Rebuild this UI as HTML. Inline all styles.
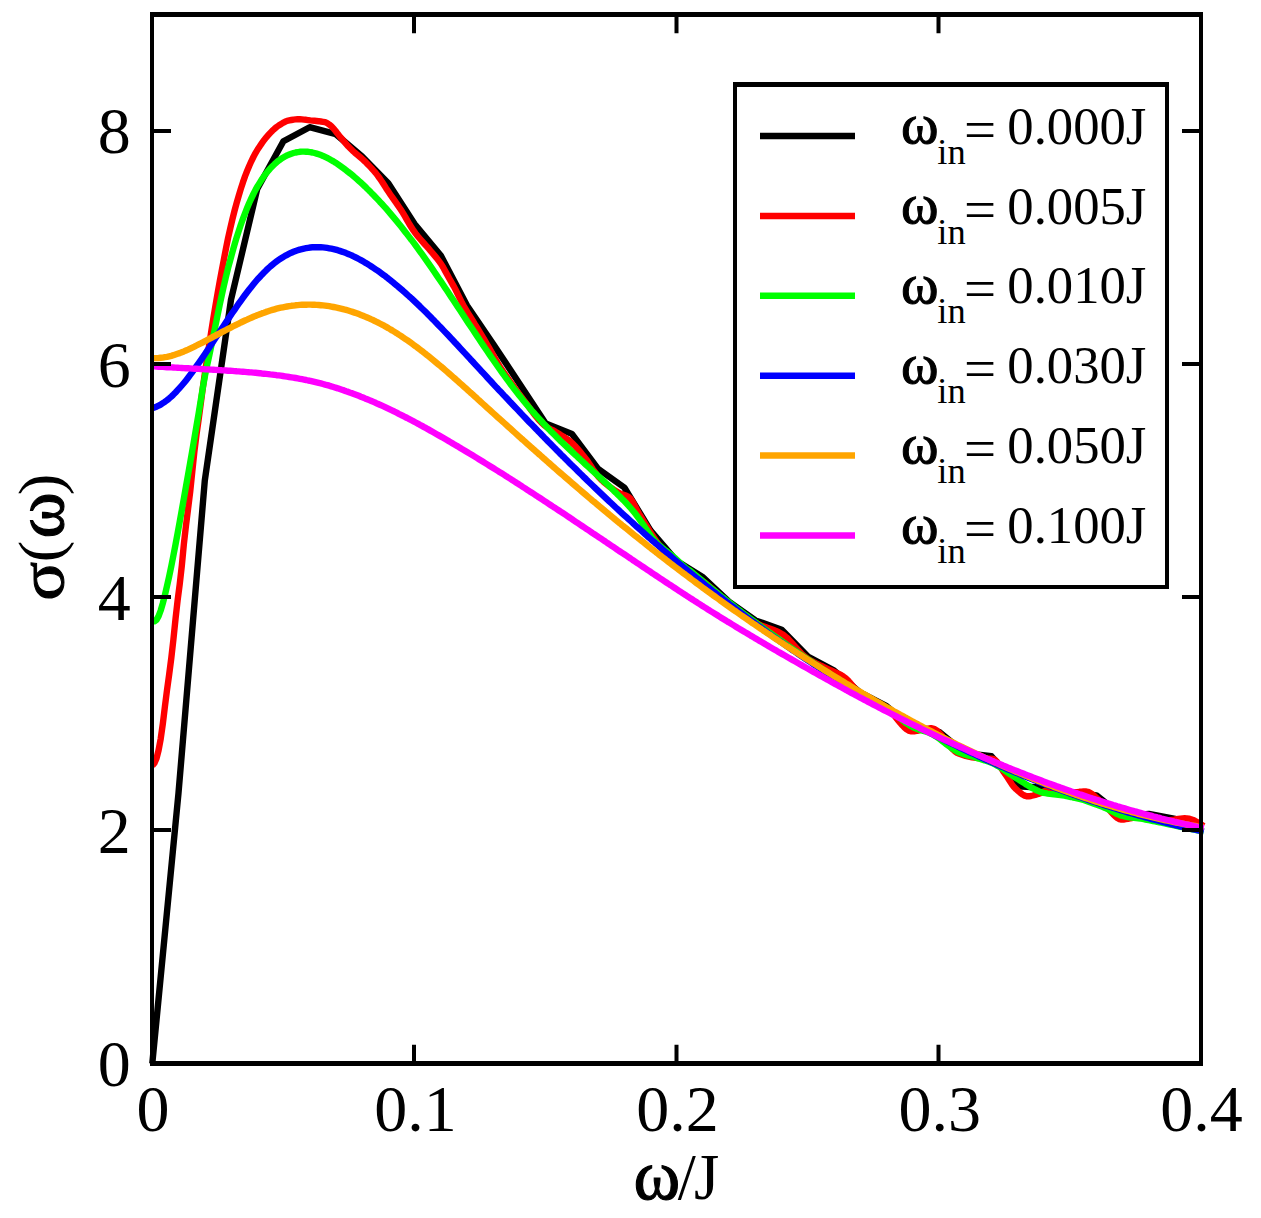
<!DOCTYPE html>
<html lang="en"><head><meta charset="utf-8"><title>σ(ω) vs ω/J</title>
<style>
html,body{margin:0;padding:0;background:#fff;}
body{width:1261px;height:1218px;overflow:hidden;}
svg text{font-kerning:none;}
</style></head><body>
<svg width="1261" height="1218" viewBox="0 0 1261 1218" style="display:block">
<rect x="0" y="0" width="1261" height="1218" fill="#ffffff"/>
<g fill="none" stroke-width="6.4" stroke-linejoin="round" stroke-linecap="butt">
<path d="M152.3 1063.5 L178.5 793.0 L204.8 480.5 L231.0 299.8 L257.2 189.0 L283.4 141.2 L309.6 127.2 L335.9 134.2 L362.1 156.4 L388.3 183.2 L414.6 224.0 L440.8 255.5 L467.0 305.6 L493.2 344.1 L519.5 383.7 L545.7 423.4 L571.9 433.9 L598.1 468.8 L624.3 487.5 L650.6 530.6 L676.8 561.0 L703.0 577.3 L729.2 601.8 L755.5 620.4 L781.7 629.7 L807.9 656.6 L834.2 670.6 L860.4 692.7 L886.6 706.1 L912.8 727.7 L939.0 731.8 L965.3 753.3 L991.5 756.3 L1017.7 786.3 L1044.0 787.7 L1070.2 791.8 L1096.4 795.3 L1122.6 816.3 L1148.9 814.0 L1175.1 819.0 L1201.3 830.3" stroke="#000000"/>
<path d="M152.3 765.6 L154.4 763.2 L156.5 758.5 L158.6 750.1 L160.7 738.8 L162.8 724.0 L164.9 706.7 L167.0 690.1 L169.2 674.3 L171.3 658.0 L173.4 639.5 L175.5 619.2 L177.6 600.5 L179.7 584.3 L181.8 565.8 L183.9 543.7 L186.0 525.3 L188.1 508.7 L190.2 491.5 L192.3 471.5 L194.4 451.4 L196.5 434.6 L198.7 419.1 L200.8 403.4 L202.9 387.4 L205.0 372.4 L207.1 358.5 L209.2 344.8 L211.3 331.3 L213.4 318.1 L215.5 305.4 L217.6 293.2 L219.7 281.5 L221.8 270.3 L223.9 259.3 L226.0 248.3 L228.1 237.9 L230.3 228.3 L232.4 219.3 L234.5 210.9 L236.6 203.1 L238.7 195.8 L240.8 188.9 L242.9 182.4 L245.0 176.4 L247.1 171.0 L249.2 166.0 L251.3 161.3 L253.4 157.0 L255.5 153.1 L257.6 149.5 L259.8 146.2 L261.9 143.1 L264.0 140.2 L266.1 137.6 L268.2 135.2 L270.3 132.9 L272.4 130.7 L274.5 128.8 L276.6 127.0 L278.7 125.5 L280.8 124.2 L282.9 122.9 L285.0 121.8 L287.1 120.9 L289.3 120.4 L291.4 120.0 L293.5 119.6 L295.6 119.4 L297.7 119.2 L299.8 119.2 L301.9 119.4 L304.0 119.6 L306.1 119.8 L308.2 120.1 L310.3 120.4 L312.4 120.6 L314.5 120.8 L316.6 121.0 L318.7 121.2 L320.9 121.5 L323.0 121.8 L325.1 122.2 L327.2 123.2 L329.3 124.6 L331.4 126.3 L333.5 128.4 L335.6 131.0 L337.7 133.8 L339.8 136.4 L341.9 138.9 L344.0 141.4 L346.1 143.9 L348.2 146.3 L350.4 148.5 L352.5 150.6 L354.6 152.5 L356.7 154.3 L358.8 156.0 L360.9 157.8 L363.0 159.6 L365.1 161.6 L367.2 163.7 L369.3 165.9 L371.4 168.1 L373.5 170.5 L375.6 172.9 L377.7 175.6 L379.8 178.5 L382.0 181.7 L384.1 185.0 L386.2 188.4 L388.3 191.6 L390.4 194.7 L392.5 197.7 L394.6 200.7 L396.7 203.6 L398.8 206.7 L400.9 209.8 L403.0 213.1 L405.1 216.6 L407.2 220.3 L409.3 224.0 L411.5 227.5 L413.6 230.7 L415.7 233.6 L417.8 236.3 L419.9 238.8 L422.0 241.2 L424.1 243.5 L426.2 245.8 L428.3 248.2 L430.4 250.7 L432.5 253.1 L434.6 255.6 L436.7 258.1 L438.8 260.9 L441.0 263.9 L443.1 267.3 L445.2 271.1 L447.3 274.9 L449.4 278.7 L451.5 282.4 L453.6 286.1 L455.7 290.0 L457.8 294.3 L459.9 298.7 L462.0 302.9 L464.1 306.7 L466.2 310.2 L468.3 313.6 L470.4 317.0 L472.6 320.4 L474.7 323.9 L476.8 327.2 L478.9 330.6 L481.0 334.1 L483.1 337.6 L485.2 341.2 L487.3 344.8 L489.4 348.4 L491.5 352.1 L493.6 355.8 L495.7 359.5 L497.8 363.2 L499.9 366.7 L502.1 370.0 L504.2 373.2 L506.3 376.2 L508.4 379.2 L510.5 382.1 L512.6 385.0 L514.7 387.9 L516.8 390.8 L518.9 393.6 L521.0 396.4 L523.1 399.2 L525.2 401.9 L527.3 404.7 L529.4 407.6 L531.5 410.6 L533.7 413.5 L535.8 416.3 L537.9 418.8 L540.0 421.1 L542.1 423.2 L544.2 425.1 L546.3 426.7 L548.4 428.0 L550.5 429.1 L552.6 430.1 L554.7 431.3 L556.8 432.6 L558.9 433.8 L561.0 435.1 L563.2 436.4 L565.3 437.8 L567.4 439.2 L569.5 440.8 L571.6 442.6 L573.7 444.6 L575.8 446.8 L577.9 449.2 L580.0 451.6 L582.1 454.2 L584.2 456.8 L586.3 459.4 L588.4 462.4 L590.5 465.6 L592.6 468.8 L594.8 471.9 L596.9 474.8 L599.0 477.4 L601.1 479.6 L603.2 481.5 L605.3 483.3 L607.4 485.0 L609.5 486.6 L611.6 488.1 L613.7 489.6 L615.8 491.0 L617.9 492.3 L620.0 493.4 L622.1 494.3 L624.3 495.0 L626.4 495.8 L628.5 496.9 L630.6 498.7 L632.7 501.8 L634.8 505.7 L636.9 509.8 L639.0 513.6 L641.1 517.0 L643.2 520.5 L645.3 523.9 L647.4 527.3 L649.5 530.6 L651.6 533.9 L653.8 537.2 L655.9 540.4 L658.0 543.5 L660.1 546.4 L662.2 549.1 L664.3 551.5 L666.4 553.9 L668.5 556.1 L670.6 558.3 L672.7 560.3 L674.8 562.2 L676.9 564.0 L679.0 565.6 L681.1 567.2 L683.2 568.6 L685.4 570.0 L687.5 571.4 L689.6 572.6 L691.7 573.9 L693.8 575.2 L695.9 576.5 L698.0 577.9 L700.1 579.3 L702.2 580.8 L704.3 582.3 L706.4 584.0 L708.5 585.7 L710.6 587.5 L712.7 589.3 L714.9 591.2 L717.0 593.0 L719.1 594.9 L721.2 596.7 L723.3 598.6 L725.4 600.4 L727.5 602.1 L729.6 603.8 L731.7 605.5 L733.8 607.2 L735.9 608.8 L738.0 610.5 L740.1 612.2 L742.2 613.9 L744.3 615.5 L746.5 617.0 L748.6 618.5 L750.7 619.9 L752.8 621.2 L754.9 622.4 L757.0 623.5 L759.1 624.5 L761.2 625.4 L763.3 626.2 L765.4 627.0 L767.5 627.8 L769.6 628.5 L771.7 629.3 L773.8 630.1 L776.0 630.9 L778.1 631.9 L780.2 633.0 L782.3 634.2 L784.4 635.7 L786.5 637.4 L788.6 639.4 L790.7 641.6 L792.8 643.9 L794.9 646.3 L797.0 648.6 L799.1 650.9 L801.2 653.2 L803.3 655.2 L805.4 657.1 L807.6 658.7 L809.7 660.0 L811.8 661.2 L813.9 662.3 L816.0 663.4 L818.1 664.4 L820.2 665.4 L822.3 666.3 L824.4 667.3 L826.5 668.3 L828.6 669.3 L830.7 670.3 L832.8 671.2 L834.9 672.1 L837.1 673.1 L839.2 674.1 L841.3 675.2 L843.4 676.5 L845.5 678.0 L847.6 680.0 L849.7 682.3 L851.8 684.8 L853.9 687.3 L856.0 689.8 L858.1 692.0 L860.2 693.8 L862.3 695.2 L864.4 696.5 L866.6 697.7 L868.7 698.8 L870.8 699.8 L872.9 700.7 L875.0 701.7 L877.1 702.7 L879.2 703.7 L881.3 704.7 L883.4 705.9 L885.5 707.2 L887.6 708.6 L889.7 710.5 L891.8 712.7 L893.9 715.1 L896.0 717.7 L898.2 720.4 L900.3 722.9 L902.4 725.3 L904.5 727.5 L906.6 729.3 L908.7 730.6 L910.8 731.3 L912.9 731.4 L915.0 731.2 L917.1 730.9 L919.2 730.4 L921.3 729.9 L923.4 729.4 L925.5 729.0 L927.7 728.6 L929.8 728.3 L931.9 728.3 L934.0 728.8 L936.1 730.0 L938.2 731.7 L940.3 733.9 L942.4 736.4 L944.5 739.1 L946.6 741.8 L948.7 744.6 L950.8 747.2 L952.9 749.5 L955.0 751.4 L957.1 752.9 L959.3 753.8 L961.4 754.5 L963.5 755.2 L965.6 755.9 L967.7 756.4 L969.8 756.9 L971.9 757.3 L974.0 757.6 L976.1 757.8 L978.2 758.0 L980.3 758.1 L982.4 758.2 L984.5 758.3 L986.6 758.4 L988.8 758.6 L990.9 758.8 L993.0 759.0 L995.1 760.0 L997.2 762.1 L999.3 765.0 L1001.4 768.3 L1003.5 771.7 L1005.6 774.7 L1007.7 777.8 L1009.8 781.1 L1011.9 784.3 L1014.0 787.1 L1016.1 789.2 L1018.3 791.1 L1020.4 792.9 L1022.5 794.5 L1024.6 795.6 L1026.7 796.3 L1028.8 796.3 L1030.9 796.0 L1033.0 795.5 L1035.1 794.9 L1037.2 794.2 L1039.3 793.6 L1041.4 792.7 L1043.5 791.7 L1045.6 790.7 L1047.7 790.1 L1049.9 789.8 L1052.0 790.0 L1054.1 790.4 L1056.2 790.9 L1058.3 791.5 L1060.4 792.1 L1062.5 792.6 L1064.6 792.9 L1066.7 793.0 L1068.8 792.9 L1070.9 792.8 L1073.0 792.6 L1075.1 792.3 L1077.2 792.1 L1079.4 791.8 L1081.5 791.7 L1083.6 791.5 L1085.7 791.5 L1087.8 791.8 L1089.9 792.7 L1092.0 794.0 L1094.1 795.6 L1096.2 797.5 L1098.3 799.4 L1100.4 801.4 L1102.5 803.1 L1104.6 804.9 L1106.7 807.1 L1108.8 809.4 L1111.0 811.8 L1113.1 814.2 L1115.2 816.3 L1117.3 818.0 L1119.4 819.1 L1121.5 819.6 L1123.6 819.5 L1125.7 819.2 L1127.8 818.9 L1129.9 818.4 L1132.0 818.0 L1134.1 817.5 L1136.2 817.2 L1138.3 816.9 L1140.5 816.9 L1142.6 817.1 L1144.7 817.5 L1146.8 818.0 L1148.9 818.5 L1151.0 818.9 L1153.1 819.3 L1155.2 819.5 L1157.3 819.8 L1159.4 820.0 L1161.5 820.2 L1163.6 820.3 L1165.7 820.4 L1167.8 820.3 L1169.9 820.2 L1172.1 819.9 L1174.2 819.6 L1176.3 819.2 L1178.4 818.9 L1180.5 818.6 L1182.6 818.4 L1184.7 818.3 L1186.8 818.4 L1188.9 818.7 L1191.0 819.3 L1193.1 820.0 L1195.2 821.0 L1197.3 822.1 L1199.4 823.4 L1201.6 824.8 L1203.7 826.2" stroke="#ff0000"/>
<path d="M152.3 620.1 L154.4 621.3 L156.5 619.8 L158.6 616.1 L160.7 610.5 L162.8 603.4 L164.9 595.1 L167.0 586.0 L169.2 576.3 L171.3 566.1 L173.4 555.5 L175.5 544.6 L177.6 533.3 L179.7 521.8 L181.8 510.1 L183.9 498.3 L186.0 486.4 L188.1 474.5 L190.2 462.6 L192.3 450.5 L194.4 438.3 L196.5 425.8 L198.7 413.0 L200.8 400.0 L202.9 387.2 L205.0 375.6 L207.1 365.4 L209.2 355.8 L211.3 345.9 L213.4 335.7 L215.5 325.4 L217.6 315.1 L219.7 304.9 L221.8 295.0 L223.9 285.6 L226.0 276.6 L228.1 268.0 L230.3 259.9 L232.4 252.1 L234.5 244.7 L236.6 237.7 L238.7 231.1 L240.8 224.8 L242.9 218.9 L245.0 213.3 L247.1 208.0 L249.2 203.0 L251.3 198.4 L253.4 194.0 L255.5 189.9 L257.6 186.1 L259.8 182.6 L261.9 179.3 L264.0 176.2 L266.1 173.4 L268.2 170.8 L270.3 168.4 L272.4 166.2 L274.5 164.2 L276.6 162.3 L278.7 160.6 L280.8 159.1 L282.9 157.7 L285.0 156.5 L287.1 155.4 L289.3 154.5 L291.4 153.7 L293.5 153.0 L295.6 152.5 L297.7 152.1 L299.8 151.8 L301.9 151.6 L304.0 151.6 L306.1 151.7 L308.2 151.8 L310.3 152.1 L312.4 152.5 L314.5 153.0 L316.6 153.6 L318.7 154.3 L320.9 155.1 L323.0 155.9 L325.1 156.9 L327.2 157.9 L329.3 159.0 L331.4 160.2 L333.5 161.4 L335.6 162.7 L337.7 164.1 L339.8 165.6 L341.9 167.1 L344.0 168.6 L346.1 170.2 L348.2 171.9 L350.4 173.6 L352.5 175.3 L354.6 177.1 L356.7 178.9 L358.8 180.8 L360.9 182.7 L363.0 184.6 L365.1 186.6 L367.2 188.7 L369.3 190.7 L371.4 192.9 L373.5 195.0 L375.6 197.2 L377.7 199.4 L379.8 201.7 L382.0 204.0 L384.1 206.3 L386.2 208.7 L388.3 211.1 L390.4 213.6 L392.5 216.1 L394.6 218.6 L396.7 221.1 L398.8 223.7 L400.9 226.3 L403.0 229.0 L405.1 231.7 L407.2 234.4 L409.3 237.1 L411.5 239.9 L413.6 242.7 L415.7 245.5 L417.8 248.4 L419.9 251.3 L422.0 254.2 L424.1 257.2 L426.2 260.2 L428.3 263.2 L430.4 266.2 L432.5 269.2 L434.6 272.3 L436.7 275.4 L438.8 278.5 L441.0 281.6 L443.1 284.7 L445.2 287.9 L447.3 291.0 L449.4 294.2 L451.5 297.4 L453.6 300.6 L455.7 303.8 L457.8 306.9 L459.9 310.1 L462.0 313.3 L464.1 316.5 L466.2 319.7 L468.3 322.9 L470.4 326.1 L472.6 329.3 L474.7 332.5 L476.8 335.6 L478.9 338.8 L481.0 342.0 L483.1 345.1 L485.2 348.2 L487.3 351.3 L489.4 354.4 L491.5 357.5 L493.6 360.5 L495.7 363.5 L497.8 366.5 L499.9 369.5 L502.1 372.5 L504.2 375.4 L506.3 378.3 L508.4 381.2 L510.5 384.0 L512.6 386.8 L514.7 389.6 L516.8 392.3 L518.9 395.0 L521.0 397.6 L523.1 400.2 L525.2 402.8 L527.3 405.3 L529.4 407.8 L531.5 410.3 L533.7 412.7 L535.8 415.1 L537.9 417.4 L540.0 419.7 L542.1 422.0 L544.2 424.3 L546.3 426.5 L548.4 428.7 L550.5 430.9 L552.6 433.0 L554.7 435.1 L556.8 437.2 L558.9 439.3 L561.0 441.4 L563.2 443.4 L565.3 445.4 L567.4 447.4 L569.5 449.4 L571.6 451.4 L573.7 453.4 L575.8 455.3 L577.9 457.3 L580.0 459.2 L582.1 461.2 L584.2 463.1 L586.3 465.1 L588.4 467.0 L590.5 468.9 L592.6 470.9 L594.8 472.8 L596.9 474.7 L599.0 476.7 L601.1 478.6 L603.2 480.6 L605.3 482.6 L607.4 484.5 L609.5 486.5 L611.6 488.5 L613.7 490.6 L615.8 492.6 L617.9 494.7 L620.0 496.7 L622.1 498.9 L624.3 501.1 L626.4 503.3 L628.5 505.6 L630.6 508.0 L632.7 510.5 L634.8 513.1 L636.9 515.8 L639.0 518.6 L641.1 521.6 L643.2 524.6 L645.3 527.8 L647.4 530.9 L649.5 534.0 L651.6 536.9 L653.8 539.6 L655.9 542.0 L658.0 544.1 L660.1 546.0 L662.2 547.8 L664.3 549.5 L666.4 551.1 L668.5 552.8 L670.6 554.4 L672.7 556.1 L674.8 557.9 L676.9 559.8 L679.0 561.8 L681.1 563.8 L683.2 565.8 L685.4 567.6 L687.5 569.2 L689.6 570.3 L691.7 572.0 L693.8 573.8 L695.9 575.5 L698.0 577.3 L700.1 579.0 L702.2 580.8 L704.3 582.5 L706.4 584.3 L708.5 586.0 L710.6 587.7 L712.7 589.4 L714.9 591.1 L717.0 592.8 L719.1 594.5 L721.2 596.2 L723.3 597.8 L725.4 599.5 L727.5 601.1 L729.6 602.8 L731.7 604.4 L733.8 606.0 L735.9 607.7 L738.0 609.3 L740.1 610.9 L742.2 612.5 L744.3 614.1 L746.5 615.7 L748.6 617.2 L750.7 618.8 L752.8 620.4 L754.9 621.9 L757.0 623.5 L759.1 625.0 L761.2 626.6 L763.3 628.1 L765.4 629.7 L767.5 631.2 L769.6 632.7 L771.7 634.2 L773.8 635.7 L776.0 637.2 L778.1 638.7 L780.2 640.2 L782.3 641.7 L784.4 643.2 L786.5 644.7 L788.6 646.1 L790.7 647.6 L792.8 649.0 L794.9 650.5 L797.0 651.9 L799.1 653.4 L801.2 654.8 L803.3 656.3 L805.4 657.7 L807.6 659.1 L809.7 660.5 L811.8 661.9 L813.9 663.3 L816.0 664.7 L818.1 666.1 L820.2 667.5 L822.3 668.9 L824.4 670.2 L826.5 671.6 L828.6 673.0 L830.7 674.3 L832.8 675.7 L834.9 677.0 L837.1 678.4 L839.2 679.7 L841.3 681.0 L843.4 682.4 L845.5 683.7 L847.6 685.0 L849.7 686.3 L851.8 687.6 L853.9 688.9 L856.0 690.2 L858.1 691.5 L860.2 692.8 L862.3 694.1 L864.4 695.4 L866.6 696.6 L868.7 697.9 L870.8 699.2 L872.9 700.4 L875.0 701.7 L877.1 702.9 L879.2 704.2 L881.3 705.4 L883.4 706.7 L885.5 707.9 L887.6 709.2 L889.7 710.5 L891.8 712.0 L893.9 713.6 L896.0 715.2 L898.2 716.9 L900.3 718.5 L902.4 720.2 L904.5 721.8 L906.6 723.3 L908.7 724.7 L910.8 726.0 L912.9 727.1 L915.0 728.1 L917.1 728.9 L919.2 729.6 L921.3 730.2 L923.4 730.8 L925.5 731.4 L927.7 732.1 L929.8 733.0 L931.9 734.0 L934.0 735.2 L936.1 736.5 L938.2 738.0 L940.3 739.5 L942.4 741.1 L944.5 742.7 L946.6 744.4 L948.7 746.0 L950.8 747.5 L952.9 748.9 L955.0 750.3 L957.1 751.5 L959.3 752.5 L961.4 753.3 L963.5 754.1 L965.6 754.8 L967.7 755.3 L969.8 755.9 L971.9 756.5 L974.0 757.0 L976.1 757.7 L978.2 758.4 L980.3 759.0 L982.4 759.7 L984.5 760.3 L986.6 761.0 L988.8 761.7 L990.9 762.5 L993.0 763.4 L995.1 764.4 L997.2 765.6 L999.3 766.8 L1001.4 768.2 L1003.5 769.6 L1005.6 771.1 L1007.7 772.6 L1009.8 774.0 L1011.9 775.4 L1014.0 776.7 L1016.1 778.0 L1018.3 779.4 L1020.4 780.7 L1022.5 782.1 L1024.6 783.4 L1026.7 784.8 L1028.8 786.0 L1030.9 787.3 L1033.0 788.4 L1035.1 789.5 L1037.2 790.5 L1039.3 791.4 L1041.4 792.2 L1043.5 792.8 L1045.6 793.2 L1047.7 793.6 L1049.9 793.9 L1052.0 794.1 L1054.1 794.4 L1056.2 794.6 L1058.3 794.8 L1060.4 795.0 L1062.5 795.3 L1064.6 795.7 L1066.7 796.2 L1068.8 796.6 L1070.9 797.0 L1073.0 797.5 L1075.1 797.9 L1077.2 798.4 L1079.4 798.9 L1081.5 799.4 L1083.6 800.0 L1085.7 800.7 L1087.8 801.4 L1089.9 802.2 L1092.0 802.9 L1094.1 803.7 L1096.2 804.5 L1098.3 805.2 L1100.4 806.0 L1102.5 806.8 L1104.6 807.7 L1106.7 808.6 L1108.8 809.7 L1111.0 810.8 L1113.1 811.9 L1115.2 813.0 L1117.3 814.0 L1119.4 814.9 L1121.5 815.6 L1123.6 816.2 L1125.7 816.7 L1127.8 817.1 L1129.9 817.4 L1132.0 817.6 L1134.1 817.8 L1136.2 818.1 L1138.3 818.3 L1140.5 818.6 L1142.6 818.9 L1144.7 819.3 L1146.8 819.8 L1148.9 820.2 L1151.0 820.6 L1153.1 821.0 L1155.2 821.4 L1157.3 821.9 L1159.4 822.3 L1161.5 822.7 L1163.6 823.2 L1165.7 823.6 L1167.8 824.1 L1169.9 824.5 L1172.1 824.9 L1174.2 825.4 L1176.3 825.9 L1178.4 826.3 L1180.5 826.8 L1182.6 827.2 L1184.7 827.6 L1186.8 828.1 L1188.9 828.5 L1191.0 829.0 L1193.1 829.4 L1195.2 829.8 L1197.3 830.3 L1199.4 830.7 L1201.6 831.2 L1203.7 831.6" stroke="#00ff00"/>
<path d="M152.3 408.2 L154.4 407.5 L156.5 406.7 L158.6 405.7 L160.7 404.6 L162.8 403.2 L164.9 401.8 L167.0 400.2 L169.2 398.4 L171.3 396.6 L173.4 394.6 L175.5 392.5 L177.6 390.2 L179.7 387.9 L181.8 385.5 L183.9 383.0 L186.0 380.4 L188.1 377.7 L190.2 374.9 L192.3 372.1 L194.4 369.2 L196.5 366.2 L198.7 363.2 L200.8 360.2 L202.9 357.1 L205.0 354.0 L207.1 350.8 L209.2 347.7 L211.3 344.5 L213.4 341.3 L215.5 338.1 L217.6 334.9 L219.7 331.7 L221.8 328.6 L223.9 325.4 L226.0 322.2 L228.1 319.1 L230.3 315.9 L232.4 312.8 L234.5 309.8 L236.6 306.7 L238.7 303.7 L240.8 300.8 L242.9 297.9 L245.0 295.0 L247.1 292.3 L249.2 289.5 L251.3 286.9 L253.4 284.3 L255.5 281.8 L257.6 279.3 L259.8 277.0 L261.9 274.7 L264.0 272.5 L266.1 270.4 L268.2 268.4 L270.3 266.5 L272.4 264.7 L274.5 263.0 L276.6 261.4 L278.7 259.9 L280.8 258.5 L282.9 257.2 L285.0 255.9 L287.1 254.8 L289.3 253.7 L291.4 252.7 L293.5 251.8 L295.6 251.0 L297.7 250.3 L299.8 249.6 L301.9 249.1 L304.0 248.6 L306.1 248.2 L308.2 247.8 L310.3 247.5 L312.4 247.3 L314.5 247.2 L316.6 247.2 L318.7 247.2 L320.9 247.3 L323.0 247.4 L325.1 247.6 L327.2 247.9 L329.3 248.3 L331.4 248.7 L333.5 249.1 L335.6 249.6 L337.7 250.2 L339.8 250.9 L341.9 251.6 L344.0 252.3 L346.1 253.1 L348.2 254.0 L350.4 254.9 L352.5 255.8 L354.6 256.8 L356.7 257.9 L358.8 259.0 L360.9 260.1 L363.0 261.3 L365.1 262.6 L367.2 263.8 L369.3 265.1 L371.4 266.5 L373.5 267.9 L375.6 269.3 L377.7 270.7 L379.8 272.2 L382.0 273.8 L384.1 275.3 L386.2 276.9 L388.3 278.6 L390.4 280.2 L392.5 281.9 L394.6 283.7 L396.7 285.4 L398.8 287.2 L400.9 289.0 L403.0 290.8 L405.1 292.7 L407.2 294.6 L409.3 296.5 L411.5 298.4 L413.6 300.4 L415.7 302.4 L417.8 304.4 L419.9 306.4 L422.0 308.5 L424.1 310.5 L426.2 312.6 L428.3 314.7 L430.4 316.8 L432.5 319.0 L434.6 321.1 L436.7 323.3 L438.8 325.5 L441.0 327.6 L443.1 329.9 L445.2 332.1 L447.3 334.3 L449.4 336.5 L451.5 338.8 L453.6 341.0 L455.7 343.3 L457.8 345.5 L459.9 347.8 L462.0 350.1 L464.1 352.4 L466.2 354.6 L468.3 356.9 L470.4 359.2 L472.6 361.5 L474.7 363.8 L476.8 366.1 L478.9 368.4 L481.0 370.7 L483.1 372.9 L485.2 375.2 L487.3 377.5 L489.4 379.8 L491.5 382.0 L493.6 384.3 L495.7 386.6 L497.8 388.8 L499.9 391.1 L502.1 393.3 L504.2 395.6 L506.3 397.8 L508.4 400.0 L510.5 402.3 L512.6 404.5 L514.7 406.7 L516.8 408.9 L518.9 411.1 L521.0 413.4 L523.1 415.6 L525.2 417.8 L527.3 420.0 L529.4 422.2 L531.5 424.3 L533.7 426.5 L535.8 428.7 L537.9 430.9 L540.0 433.0 L542.1 435.2 L544.2 437.4 L546.3 439.5 L548.4 441.7 L550.5 443.8 L552.6 445.9 L554.7 448.1 L556.8 450.2 L558.9 452.3 L561.0 454.5 L563.2 456.6 L565.3 458.7 L567.4 460.8 L569.5 462.9 L571.6 465.0 L573.7 467.0 L575.8 469.1 L577.9 471.2 L580.0 473.3 L582.1 475.3 L584.2 477.4 L586.3 479.4 L588.4 481.5 L590.5 483.5 L592.6 485.5 L594.8 487.6 L596.9 489.6 L599.0 491.6 L601.1 493.6 L603.2 495.6 L605.3 497.6 L607.4 499.6 L609.5 501.6 L611.6 503.5 L613.7 505.5 L615.8 507.5 L617.9 509.4 L620.0 511.4 L622.1 513.3 L624.3 515.3 L626.4 517.2 L628.5 519.1 L630.6 521.0 L632.7 522.9 L634.8 524.9 L636.9 526.8 L639.0 528.6 L641.1 530.5 L643.2 532.4 L645.3 534.3 L647.4 536.2 L649.5 538.0 L651.6 539.9 L653.8 541.7 L655.9 543.6 L658.0 545.4 L660.1 547.2 L662.2 549.1 L664.3 550.9 L666.4 552.7 L668.5 554.5 L670.6 556.3 L672.7 558.1 L674.8 559.9 L676.9 561.6 L679.0 563.4 L681.1 565.2 L683.2 567.0 L685.4 568.7 L687.5 570.5 L689.6 572.2 L691.7 573.9 L693.8 575.7 L695.9 577.4 L698.0 579.1 L700.1 580.8 L702.2 582.5 L704.3 584.2 L706.4 585.9 L708.5 587.6 L710.6 589.3 L712.7 591.0 L714.9 592.6 L717.0 594.3 L719.1 596.0 L721.2 597.6 L723.3 599.3 L725.4 600.9 L727.5 602.5 L729.6 604.2 L731.7 605.8 L733.8 607.4 L735.9 609.0 L738.0 610.6 L740.1 612.2 L742.2 613.8 L744.3 615.4 L746.5 617.0 L748.6 618.6 L750.7 620.1 L752.8 621.7 L754.9 623.2 L757.0 624.8 L759.1 626.3 L761.2 627.9 L763.3 629.4 L765.4 630.9 L767.5 632.5 L769.6 634.0 L771.7 635.5 L773.8 637.0 L776.0 638.5 L778.1 640.0 L780.2 641.5 L782.3 642.9 L784.4 644.4 L786.5 645.9 L788.6 647.4 L790.7 648.8 L792.8 650.3 L794.9 651.7 L797.0 653.1 L799.1 654.6 L801.2 656.0 L803.3 657.4 L805.4 658.9 L807.6 660.3 L809.7 661.7 L811.8 663.1 L813.9 664.5 L816.0 665.9 L818.1 667.2 L820.2 668.6 L822.3 670.0 L824.4 671.3 L826.5 672.7 L828.6 674.1 L830.7 675.4 L832.8 676.8 L834.9 678.1 L837.1 679.4 L839.2 680.7 L841.3 682.1 L843.4 683.4 L845.5 684.7 L847.6 686.0 L849.7 687.3 L851.8 688.6 L853.9 689.9 L856.0 691.2 L858.1 692.4 L860.2 693.7 L862.3 695.0 L864.4 696.2 L866.6 697.5 L868.7 698.7 L870.8 700.0 L872.9 701.2 L875.0 702.4 L877.1 703.7 L879.2 704.9 L881.3 706.1 L883.4 707.3 L885.5 708.5 L887.6 709.7 L889.7 710.9 L891.8 712.1 L893.9 713.3 L896.0 714.4 L898.2 715.6 L900.3 716.8 L902.4 717.9 L904.5 719.1 L906.6 720.3 L908.7 721.4 L910.8 722.5 L912.9 723.7 L915.0 724.8 L917.1 725.9 L919.2 727.0 L921.3 728.1 L923.4 729.3 L925.5 730.4 L927.7 731.5 L929.8 732.5 L931.9 733.6 L934.0 734.7 L936.1 735.8 L938.2 736.8 L940.3 737.9 L942.4 739.0 L944.5 740.0 L946.6 741.1 L948.7 742.1 L950.8 743.2 L952.9 744.2 L955.0 745.2 L957.1 746.2 L959.3 747.3 L961.4 748.3 L963.5 749.3 L965.6 750.3 L967.7 751.3 L969.8 752.3 L971.9 753.2 L974.0 754.2 L976.1 755.2 L978.2 756.2 L980.3 757.1 L982.4 758.1 L984.5 759.0 L986.6 760.0 L988.8 760.9 L990.9 761.9 L993.0 762.8 L995.1 763.7 L997.2 764.7 L999.3 765.6 L1001.4 766.5 L1003.5 767.4 L1005.6 768.3 L1007.7 769.2 L1009.8 770.1 L1011.9 771.0 L1014.0 771.9 L1016.1 772.8 L1018.3 773.6 L1020.4 774.5 L1022.5 775.4 L1024.6 776.2 L1026.7 777.1 L1028.8 777.9 L1030.9 778.8 L1033.0 779.6 L1035.1 780.4 L1037.2 781.3 L1039.3 782.1 L1041.4 782.9 L1043.5 783.7 L1045.6 784.5 L1047.7 785.3 L1049.9 786.1 L1052.0 786.9 L1054.1 787.7 L1056.2 788.5 L1058.3 789.3 L1060.4 790.0 L1062.5 790.8 L1064.6 791.6 L1066.7 792.3 L1068.8 793.1 L1070.9 793.8 L1073.0 794.6 L1075.1 795.3 L1077.2 796.1 L1079.4 796.8 L1081.5 797.5 L1083.6 798.2 L1085.7 799.0 L1087.8 799.7 L1089.9 800.4 L1092.0 801.1 L1094.1 801.8 L1096.2 802.5 L1098.3 803.2 L1100.4 803.8 L1102.5 804.5 L1104.6 805.2 L1106.7 805.9 L1108.8 806.5 L1111.0 807.2 L1113.1 807.8 L1115.2 808.5 L1117.3 809.1 L1119.4 809.8 L1121.5 810.4 L1123.6 811.0 L1125.7 811.7 L1127.8 812.3 L1129.9 812.9 L1132.0 813.5 L1134.1 814.1 L1136.2 814.7 L1138.3 815.3 L1140.5 815.9 L1142.6 816.5 L1144.7 817.1 L1146.8 817.7 L1148.9 818.2 L1151.0 818.8 L1153.1 819.4 L1155.2 819.9 L1157.3 820.5 L1159.4 821.0 L1161.5 821.6 L1163.6 822.1 L1165.7 822.7 L1167.8 823.2 L1169.9 823.7 L1172.1 824.3 L1174.2 824.8 L1176.3 825.3 L1178.4 825.8 L1180.5 826.3 L1182.6 826.8 L1184.7 827.3 L1186.8 827.8 L1188.9 828.3 L1191.0 828.8 L1193.1 829.3 L1195.2 829.7 L1197.3 830.2 L1199.4 830.7 L1201.6 831.1 L1203.7 831.6" stroke="#0000ff"/>
<path d="M152.3 358.1 L154.4 358.1 L156.5 358.1 L158.6 358.0 L160.7 357.8 L162.8 357.6 L164.9 357.2 L167.0 356.8 L169.2 356.3 L171.3 355.8 L173.4 355.2 L175.5 354.5 L177.6 353.8 L179.7 353.1 L181.8 352.2 L183.9 351.4 L186.0 350.5 L188.1 349.6 L190.2 348.6 L192.3 347.6 L194.4 346.6 L196.5 345.5 L198.7 344.4 L200.8 343.4 L202.9 342.3 L205.0 341.2 L207.1 340.0 L209.2 338.9 L211.3 337.8 L213.4 336.7 L215.5 335.6 L217.6 334.4 L219.7 333.3 L221.8 332.2 L223.9 331.1 L226.0 330.0 L228.1 328.9 L230.3 327.8 L232.4 326.7 L234.5 325.7 L236.6 324.6 L238.7 323.6 L240.8 322.5 L242.9 321.5 L245.0 320.5 L247.1 319.6 L249.2 318.6 L251.3 317.7 L253.4 316.8 L255.5 315.9 L257.6 315.1 L259.8 314.2 L261.9 313.4 L264.0 312.7 L266.1 311.9 L268.2 311.2 L270.3 310.5 L272.4 309.9 L274.5 309.3 L276.6 308.7 L278.7 308.2 L280.8 307.7 L282.9 307.3 L285.0 306.9 L287.1 306.5 L289.3 306.1 L291.4 305.8 L293.5 305.6 L295.6 305.3 L297.7 305.1 L299.8 304.9 L301.9 304.8 L304.0 304.7 L306.1 304.7 L308.2 304.6 L310.3 304.6 L312.4 304.7 L314.5 304.8 L316.6 304.9 L318.7 305.0 L320.9 305.2 L323.0 305.4 L325.1 305.6 L327.2 305.9 L329.3 306.2 L331.4 306.6 L333.5 307.0 L335.6 307.4 L337.7 307.8 L339.8 308.3 L341.9 308.8 L344.0 309.4 L346.1 309.9 L348.2 310.5 L350.4 311.2 L352.5 311.9 L354.6 312.6 L356.7 313.3 L358.8 314.1 L360.9 314.9 L363.0 315.7 L365.1 316.6 L367.2 317.5 L369.3 318.4 L371.4 319.4 L373.5 320.3 L375.6 321.4 L377.7 322.4 L379.8 323.5 L382.0 324.6 L384.1 325.7 L386.2 326.9 L388.3 328.1 L390.4 329.4 L392.5 330.6 L394.6 331.9 L396.7 333.2 L398.8 334.6 L400.9 335.9 L403.0 337.4 L405.1 338.8 L407.2 340.2 L409.3 341.7 L411.5 343.2 L413.6 344.8 L415.7 346.3 L417.8 347.9 L419.9 349.5 L422.0 351.1 L424.1 352.8 L426.2 354.4 L428.3 356.1 L430.4 357.8 L432.5 359.5 L434.6 361.2 L436.7 363.0 L438.8 364.8 L441.0 366.5 L443.1 368.3 L445.2 370.1 L447.3 371.9 L449.4 373.8 L451.5 375.6 L453.6 377.5 L455.7 379.3 L457.8 381.2 L459.9 383.1 L462.0 384.9 L464.1 386.8 L466.2 388.7 L468.3 390.6 L470.4 392.5 L472.6 394.4 L474.7 396.3 L476.8 398.2 L478.9 400.2 L481.0 402.1 L483.1 404.0 L485.2 405.9 L487.3 407.8 L489.4 409.7 L491.5 411.6 L493.6 413.5 L495.7 415.4 L497.8 417.3 L499.9 419.2 L502.1 421.1 L504.2 423.0 L506.3 424.9 L508.4 426.8 L510.5 428.7 L512.6 430.6 L514.7 432.5 L516.8 434.4 L518.9 436.3 L521.0 438.2 L523.1 440.0 L525.2 441.9 L527.3 443.8 L529.4 445.7 L531.5 447.6 L533.7 449.4 L535.8 451.3 L537.9 453.2 L540.0 455.0 L542.1 456.9 L544.2 458.8 L546.3 460.6 L548.4 462.5 L550.5 464.3 L552.6 466.2 L554.7 468.0 L556.8 469.9 L558.9 471.7 L561.0 473.5 L563.2 475.4 L565.3 477.2 L567.4 479.0 L569.5 480.8 L571.6 482.7 L573.7 484.5 L575.8 486.3 L577.9 488.1 L580.0 489.9 L582.1 491.7 L584.2 493.5 L586.3 495.3 L588.4 497.1 L590.5 498.9 L592.6 500.7 L594.8 502.4 L596.9 504.2 L599.0 506.0 L601.1 507.7 L603.2 509.5 L605.3 511.3 L607.4 513.0 L609.5 514.8 L611.6 516.5 L613.7 518.2 L615.8 520.0 L617.9 521.7 L620.0 523.4 L622.1 525.2 L624.3 526.9 L626.4 528.6 L628.5 530.3 L630.6 532.0 L632.7 533.7 L634.8 535.4 L636.9 537.1 L639.0 538.8 L641.1 540.4 L643.2 542.1 L645.3 543.8 L647.4 545.5 L649.5 547.1 L651.6 548.8 L653.8 550.4 L655.9 552.1 L658.0 553.7 L660.1 555.4 L662.2 557.0 L664.3 558.6 L666.4 560.3 L668.5 561.9 L670.6 563.5 L672.7 565.1 L674.8 566.7 L676.9 568.3 L679.0 569.9 L681.1 571.5 L683.2 573.1 L685.4 574.7 L687.5 576.3 L689.6 577.9 L691.7 579.5 L693.8 581.0 L695.9 582.6 L698.0 584.2 L700.1 585.7 L702.2 587.3 L704.3 588.8 L706.4 590.4 L708.5 591.9 L710.6 593.4 L712.7 595.0 L714.9 596.5 L717.0 598.0 L719.1 599.5 L721.2 601.1 L723.3 602.6 L725.4 604.1 L727.5 605.6 L729.6 607.1 L731.7 608.6 L733.8 610.1 L735.9 611.5 L738.0 613.0 L740.1 614.5 L742.2 616.0 L744.3 617.4 L746.5 618.9 L748.6 620.4 L750.7 621.8 L752.8 623.3 L754.9 624.7 L757.0 626.2 L759.1 627.6 L761.2 629.0 L763.3 630.5 L765.4 631.9 L767.5 633.3 L769.6 634.7 L771.7 636.2 L773.8 637.6 L776.0 639.0 L778.1 640.4 L780.2 641.8 L782.3 643.2 L784.4 644.6 L786.5 646.0 L788.6 647.3 L790.7 648.7 L792.8 650.1 L794.9 651.5 L797.0 652.8 L799.1 654.2 L801.2 655.5 L803.3 656.9 L805.4 658.2 L807.6 659.6 L809.7 660.9 L811.8 662.3 L813.9 663.6 L816.0 664.9 L818.1 666.2 L820.2 667.6 L822.3 668.9 L824.4 670.2 L826.5 671.5 L828.6 672.8 L830.7 674.1 L832.8 675.4 L834.9 676.7 L837.1 678.0 L839.2 679.3 L841.3 680.6 L843.4 681.8 L845.5 683.1 L847.6 684.4 L849.7 685.6 L851.8 686.9 L853.9 688.2 L856.0 689.4 L858.1 690.7 L860.2 691.9 L862.3 693.1 L864.4 694.4 L866.6 695.6 L868.7 696.8 L870.8 698.1 L872.9 699.3 L875.0 700.5 L877.1 701.7 L879.2 702.9 L881.3 704.1 L883.4 705.3 L885.5 706.5 L887.6 707.7 L889.7 708.9 L891.8 710.1 L893.9 711.3 L896.0 712.4 L898.2 713.6 L900.3 714.8 L902.4 715.9 L904.5 717.1 L906.6 718.2 L908.7 719.4 L910.8 720.5 L912.9 721.7 L915.0 722.8 L917.1 723.9 L919.2 725.1 L921.3 726.2 L923.4 727.3 L925.5 728.4 L927.7 729.5 L929.8 730.6 L931.9 731.7 L934.0 732.8 L936.1 733.9 L938.2 735.0 L940.3 736.1 L942.4 737.2 L944.5 738.2 L946.6 739.3 L948.7 740.4 L950.8 741.4 L952.9 742.5 L955.0 743.5 L957.1 744.6 L959.3 745.6 L961.4 746.6 L963.5 747.7 L965.6 748.7 L967.7 749.7 L969.8 750.7 L971.9 751.7 L974.0 752.7 L976.1 753.7 L978.2 754.7 L980.3 755.7 L982.4 756.7 L984.5 757.6 L986.6 758.6 L988.8 759.6 L990.9 760.6 L993.0 761.5 L995.1 762.5 L997.2 763.4 L999.3 764.3 L1001.4 765.3 L1003.5 766.2 L1005.6 767.1 L1007.7 768.1 L1009.8 769.0 L1011.9 769.9 L1014.0 770.8 L1016.1 771.7 L1018.3 772.6 L1020.4 773.5 L1022.5 774.3 L1024.6 775.2 L1026.7 776.1 L1028.8 776.9 L1030.9 777.8 L1033.0 778.7 L1035.1 779.5 L1037.2 780.4 L1039.3 781.2 L1041.4 782.0 L1043.5 782.8 L1045.6 783.7 L1047.7 784.5 L1049.9 785.3 L1052.0 786.1 L1054.1 786.9 L1056.2 787.7 L1058.3 788.5 L1060.4 789.2 L1062.5 790.0 L1064.6 790.8 L1066.7 791.5 L1068.8 792.3 L1070.9 793.0 L1073.0 793.8 L1075.1 794.5 L1077.2 795.3 L1079.4 796.0 L1081.5 796.7 L1083.6 797.4 L1085.7 798.1 L1087.8 798.8 L1089.9 799.5 L1092.0 800.2 L1094.1 800.9 L1096.2 801.6 L1098.3 802.2 L1100.4 802.9 L1102.5 803.6 L1104.6 804.2 L1106.7 804.9 L1108.8 805.5 L1111.0 806.1 L1113.1 806.8 L1115.2 807.4 L1117.3 808.0 L1119.4 808.6 L1121.5 809.2 L1123.6 809.8 L1125.7 810.4 L1127.8 811.0 L1129.9 811.5 L1132.0 812.1 L1134.1 812.7 L1136.2 813.2 L1138.3 813.8 L1140.5 814.3 L1142.6 814.8 L1144.7 815.4 L1146.8 815.9 L1148.9 816.4 L1151.0 816.9 L1153.1 817.4 L1155.2 817.9 L1157.3 818.4 L1159.4 818.9 L1161.5 819.4 L1163.6 819.8 L1165.7 820.3 L1167.8 820.7 L1169.9 821.2 L1172.1 821.6 L1174.2 822.1 L1176.3 822.5 L1178.4 822.9 L1180.5 823.3 L1182.6 823.7 L1184.7 824.1 L1186.8 824.5 L1188.9 824.9 L1191.0 825.3 L1193.1 825.6 L1195.2 826.0 L1197.3 826.4 L1199.4 826.7 L1201.6 827.1 L1203.7 827.4" stroke="#ffa500"/>
<path d="M152.3 366.3 L154.4 366.4 L156.5 366.5 L158.6 366.7 L160.7 366.8 L162.8 366.9 L164.9 367.0 L167.0 367.2 L169.2 367.3 L171.3 367.4 L173.4 367.5 L175.5 367.6 L177.6 367.7 L179.7 367.9 L181.8 368.0 L183.9 368.1 L186.0 368.2 L188.1 368.3 L190.2 368.4 L192.3 368.6 L194.4 368.7 L196.5 368.8 L198.7 368.9 L200.8 369.0 L202.9 369.1 L205.0 369.3 L207.1 369.4 L209.2 369.5 L211.3 369.6 L213.4 369.7 L215.5 369.9 L217.6 370.0 L219.7 370.1 L221.8 370.3 L223.9 370.4 L226.0 370.5 L228.1 370.7 L230.3 370.8 L232.4 370.9 L234.5 371.1 L236.6 371.3 L238.7 371.4 L240.8 371.6 L242.9 371.7 L245.0 371.9 L247.1 372.1 L249.2 372.3 L251.3 372.4 L253.4 372.6 L255.5 372.8 L257.6 373.0 L259.8 373.2 L261.9 373.5 L264.0 373.7 L266.1 373.9 L268.2 374.1 L270.3 374.4 L272.4 374.6 L274.5 374.9 L276.6 375.2 L278.7 375.4 L280.8 375.7 L282.9 376.0 L285.0 376.3 L287.1 376.6 L289.3 377.0 L291.4 377.3 L293.5 377.6 L295.6 378.0 L297.7 378.4 L299.8 378.8 L301.9 379.2 L304.0 379.6 L306.1 380.0 L308.2 380.5 L310.3 380.9 L312.4 381.4 L314.5 381.9 L316.6 382.4 L318.7 382.9 L320.9 383.4 L323.0 384.0 L325.1 384.6 L327.2 385.1 L329.3 385.7 L331.4 386.4 L333.5 387.0 L335.6 387.7 L337.7 388.3 L339.8 389.0 L341.9 389.7 L344.0 390.4 L346.1 391.2 L348.2 391.9 L350.4 392.7 L352.5 393.4 L354.6 394.2 L356.7 395.0 L358.8 395.8 L360.9 396.7 L363.0 397.5 L365.1 398.4 L367.2 399.2 L369.3 400.1 L371.4 401.0 L373.5 401.9 L375.6 402.8 L377.7 403.8 L379.8 404.7 L382.0 405.7 L384.1 406.6 L386.2 407.6 L388.3 408.6 L390.4 409.6 L392.5 410.6 L394.6 411.7 L396.7 412.7 L398.8 413.8 L400.9 414.8 L403.0 415.9 L405.1 417.0 L407.2 418.0 L409.3 419.1 L411.5 420.3 L413.6 421.4 L415.7 422.5 L417.8 423.6 L419.9 424.8 L422.0 425.9 L424.1 427.1 L426.2 428.2 L428.3 429.4 L430.4 430.6 L432.5 431.8 L434.6 433.0 L436.7 434.2 L438.8 435.4 L441.0 436.6 L443.1 437.8 L445.2 439.0 L447.3 440.2 L449.4 441.5 L451.5 442.7 L453.6 444.0 L455.7 445.2 L457.8 446.4 L459.9 447.7 L462.0 449.0 L464.1 450.2 L466.2 451.5 L468.3 452.8 L470.4 454.0 L472.6 455.3 L474.7 456.6 L476.8 457.9 L478.9 459.2 L481.0 460.5 L483.1 461.8 L485.2 463.1 L487.3 464.4 L489.4 465.7 L491.5 467.0 L493.6 468.3 L495.7 469.6 L497.8 470.9 L499.9 472.3 L502.1 473.6 L504.2 474.9 L506.3 476.3 L508.4 477.6 L510.5 478.9 L512.6 480.3 L514.7 481.6 L516.8 483.0 L518.9 484.3 L521.0 485.7 L523.1 487.1 L525.2 488.4 L527.3 489.8 L529.4 491.2 L531.5 492.5 L533.7 493.9 L535.8 495.3 L537.9 496.7 L540.0 498.0 L542.1 499.4 L544.2 500.8 L546.3 502.2 L548.4 503.6 L550.5 505.0 L552.6 506.4 L554.7 507.7 L556.8 509.1 L558.9 510.5 L561.0 511.9 L563.2 513.3 L565.3 514.7 L567.4 516.1 L569.5 517.5 L571.6 518.9 L573.7 520.4 L575.8 521.8 L577.9 523.2 L580.0 524.6 L582.1 526.0 L584.2 527.4 L586.3 528.8 L588.4 530.2 L590.5 531.6 L592.6 533.1 L594.8 534.5 L596.9 535.9 L599.0 537.3 L601.1 538.7 L603.2 540.1 L605.3 541.5 L607.4 543.0 L609.5 544.4 L611.6 545.8 L613.7 547.2 L615.8 548.6 L617.9 550.1 L620.0 551.5 L622.1 552.9 L624.3 554.3 L626.4 555.7 L628.5 557.1 L630.6 558.5 L632.7 560.0 L634.8 561.4 L636.9 562.8 L639.0 564.2 L641.1 565.6 L643.2 567.0 L645.3 568.4 L647.4 569.8 L649.5 571.2 L651.6 572.7 L653.8 574.1 L655.9 575.5 L658.0 576.9 L660.1 578.3 L662.2 579.7 L664.3 581.1 L666.4 582.5 L668.5 583.9 L670.6 585.2 L672.7 586.6 L674.8 588.0 L676.9 589.4 L679.0 590.8 L681.1 592.2 L683.2 593.6 L685.4 594.9 L687.5 596.3 L689.6 597.7 L691.7 599.0 L693.8 600.4 L695.9 601.7 L698.0 603.1 L700.1 604.4 L702.2 605.8 L704.3 607.1 L706.4 608.4 L708.5 609.8 L710.6 611.1 L712.7 612.4 L714.9 613.7 L717.0 615.0 L719.1 616.4 L721.2 617.7 L723.3 619.0 L725.4 620.3 L727.5 621.6 L729.6 622.8 L731.7 624.1 L733.8 625.4 L735.9 626.7 L738.0 628.0 L740.1 629.2 L742.2 630.5 L744.3 631.8 L746.5 633.0 L748.6 634.3 L750.7 635.6 L752.8 636.8 L754.9 638.1 L757.0 639.3 L759.1 640.6 L761.2 641.8 L763.3 643.0 L765.4 644.3 L767.5 645.5 L769.6 646.8 L771.7 648.0 L773.8 649.2 L776.0 650.4 L778.1 651.7 L780.2 652.9 L782.3 654.1 L784.4 655.3 L786.5 656.5 L788.6 657.7 L790.7 658.9 L792.8 660.1 L794.9 661.3 L797.0 662.5 L799.1 663.7 L801.2 664.9 L803.3 666.1 L805.4 667.3 L807.6 668.5 L809.7 669.7 L811.8 670.9 L813.9 672.1 L816.0 673.2 L818.1 674.4 L820.2 675.6 L822.3 676.8 L824.4 678.0 L826.5 679.1 L828.6 680.3 L830.7 681.5 L832.8 682.7 L834.9 683.8 L837.1 685.0 L839.2 686.1 L841.3 687.3 L843.4 688.5 L845.5 689.6 L847.6 690.8 L849.7 691.9 L851.8 693.1 L853.9 694.2 L856.0 695.3 L858.1 696.5 L860.2 697.6 L862.3 698.7 L864.4 699.8 L866.6 700.9 L868.7 702.1 L870.8 703.2 L872.9 704.3 L875.0 705.4 L877.1 706.5 L879.2 707.6 L881.3 708.7 L883.4 709.8 L885.5 710.9 L887.6 711.9 L889.7 713.0 L891.8 714.1 L893.9 715.2 L896.0 716.2 L898.2 717.3 L900.3 718.4 L902.4 719.4 L904.5 720.5 L906.6 721.5 L908.7 722.6 L910.8 723.6 L912.9 724.6 L915.0 725.7 L917.1 726.7 L919.2 727.7 L921.3 728.8 L923.4 729.8 L925.5 730.8 L927.7 731.8 L929.8 732.8 L931.9 733.8 L934.0 734.8 L936.1 735.8 L938.2 736.8 L940.3 737.8 L942.4 738.8 L944.5 739.8 L946.6 740.7 L948.7 741.7 L950.8 742.7 L952.9 743.7 L955.0 744.6 L957.1 745.6 L959.3 746.5 L961.4 747.5 L963.5 748.4 L965.6 749.4 L967.7 750.3 L969.8 751.3 L971.9 752.2 L974.0 753.1 L976.1 754.0 L978.2 755.0 L980.3 755.9 L982.4 756.8 L984.5 757.7 L986.6 758.6 L988.8 759.5 L990.9 760.4 L993.0 761.3 L995.1 762.2 L997.2 763.0 L999.3 763.9 L1001.4 764.8 L1003.5 765.7 L1005.6 766.5 L1007.7 767.4 L1009.8 768.2 L1011.9 769.1 L1014.0 770.0 L1016.1 770.8 L1018.3 771.6 L1020.4 772.5 L1022.5 773.3 L1024.6 774.1 L1026.7 775.0 L1028.8 775.8 L1030.9 776.6 L1033.0 777.4 L1035.1 778.2 L1037.2 779.0 L1039.3 779.8 L1041.4 780.6 L1043.5 781.4 L1045.6 782.2 L1047.7 783.0 L1049.9 783.7 L1052.0 784.5 L1054.1 785.3 L1056.2 786.1 L1058.3 786.8 L1060.4 787.6 L1062.5 788.3 L1064.6 789.1 L1066.7 789.8 L1068.8 790.5 L1070.9 791.3 L1073.0 792.0 L1075.1 792.7 L1077.2 793.4 L1079.4 794.2 L1081.5 794.9 L1083.6 795.6 L1085.7 796.3 L1087.8 797.0 L1089.9 797.7 L1092.0 798.4 L1094.1 799.0 L1096.2 799.7 L1098.3 800.4 L1100.4 801.1 L1102.5 801.7 L1104.6 802.4 L1106.7 803.0 L1108.8 803.7 L1111.0 804.3 L1113.1 805.0 L1115.2 805.6 L1117.3 806.3 L1119.4 806.9 L1121.5 807.5 L1123.6 808.1 L1125.7 808.7 L1127.8 809.4 L1129.9 810.0 L1132.0 810.6 L1134.1 811.2 L1136.2 811.7 L1138.3 812.3 L1140.5 812.9 L1142.6 813.5 L1144.7 814.1 L1146.8 814.6 L1148.9 815.2 L1151.0 815.7 L1153.1 816.3 L1155.2 816.8 L1157.3 817.4 L1159.4 817.9 L1161.5 818.5 L1163.6 819.0 L1165.7 819.5 L1167.8 820.0 L1169.9 820.5 L1172.1 821.0 L1174.2 821.6 L1176.3 822.0 L1178.4 822.5 L1180.5 823.0 L1182.6 823.5 L1184.7 824.0 L1186.8 824.5 L1188.9 824.9 L1191.0 825.4 L1193.1 825.9 L1195.2 826.3 L1197.3 826.8 L1199.4 827.2 L1201.6 827.6 L1203.7 828.1" stroke="#ff00ff"/>
</g>
<path d="M152 131.0 H171 M1201 131.0 H1182 M152 364.0 H171 M1201 364.0 H1182 M152 597.0 H171 M1201 597.0 H1182 M152 830.0 H171 M1201 830.0 H1182 M414.0 1063.5 V1044.7 M414.0 14.5 V33.3 M676.5 1063.5 V1044.7 M676.5 14.5 V33.3 M938.5 1063.5 V1044.7 M938.5 14.5 V33.3" stroke="#000" stroke-width="4" fill="none"/>
<path d="M152 12 V1066 M1201 12 V1066" stroke="#000" stroke-width="4" fill="none"/>
<path d="M150 14.5 H1203 M150 1063.5 H1203" stroke="#000" stroke-width="5" fill="none"/>
<rect x="733" y="82" width="436" height="507" fill="#000"/>
<rect x="737" y="87" width="428" height="498" fill="#fff"/>
<path d="M760 136.0 H855" stroke="#000000" stroke-width="6.5" fill="none"/>
<text font-family="'Liberation Serif', 'DejaVu Serif', serif" font-size="52.7" y="143.6" fill="#000"><tspan x="901" dy="-0.3" font-size="57" stroke="#000" stroke-width="1">ω</tspan><tspan x="937.3" dy="20.3" font-size="36.5">in</tspan><tspan x="964" dy="-15" font-size="57">=</tspan><tspan x="1007.3" dy="-5">0.000J</tspan></text>
<path d="M760 215.9 H855" stroke="#ff0000" stroke-width="6.5" fill="none"/>
<text font-family="'Liberation Serif', 'DejaVu Serif', serif" font-size="52.7" y="223.5" fill="#000"><tspan x="901" dy="-0.3" font-size="57" stroke="#000" stroke-width="1">ω</tspan><tspan x="937.3" dy="20.3" font-size="36.5">in</tspan><tspan x="964" dy="-15" font-size="57">=</tspan><tspan x="1007.3" dy="-5">0.005J</tspan></text>
<path d="M760 295.8 H855" stroke="#00ff00" stroke-width="6.5" fill="none"/>
<text font-family="'Liberation Serif', 'DejaVu Serif', serif" font-size="52.7" y="303.4" fill="#000"><tspan x="901" dy="-0.3" font-size="57" stroke="#000" stroke-width="1">ω</tspan><tspan x="937.3" dy="20.3" font-size="36.5">in</tspan><tspan x="964" dy="-15" font-size="57">=</tspan><tspan x="1007.3" dy="-5">0.010J</tspan></text>
<path d="M760 375.7 H855" stroke="#0000ff" stroke-width="6.5" fill="none"/>
<text font-family="'Liberation Serif', 'DejaVu Serif', serif" font-size="52.7" y="383.3" fill="#000"><tspan x="901" dy="-0.3" font-size="57" stroke="#000" stroke-width="1">ω</tspan><tspan x="937.3" dy="20.3" font-size="36.5">in</tspan><tspan x="964" dy="-15" font-size="57">=</tspan><tspan x="1007.3" dy="-5">0.030J</tspan></text>
<path d="M760 455.6 H855" stroke="#ffa500" stroke-width="6.5" fill="none"/>
<text font-family="'Liberation Serif', 'DejaVu Serif', serif" font-size="52.7" y="463.2" fill="#000"><tspan x="901" dy="-0.3" font-size="57" stroke="#000" stroke-width="1">ω</tspan><tspan x="937.3" dy="20.3" font-size="36.5">in</tspan><tspan x="964" dy="-15" font-size="57">=</tspan><tspan x="1007.3" dy="-5">0.050J</tspan></text>
<path d="M760 535.5 H855" stroke="#ff00ff" stroke-width="6.5" fill="none"/>
<text font-family="'Liberation Serif', 'DejaVu Serif', serif" font-size="52.7" y="543.1" fill="#000"><tspan x="901" dy="-0.3" font-size="57" stroke="#000" stroke-width="1">ω</tspan><tspan x="937.3" dy="20.3" font-size="36.5">in</tspan><tspan x="964" dy="-15" font-size="57">=</tspan><tspan x="1007.3" dy="-5">0.100J</tspan></text>
<text font-family="'Liberation Serif', 'DejaVu Serif', serif" font-size="66" text-anchor="end" x="130.7" y="1086.1">0</text>
<text font-family="'Liberation Serif', 'DejaVu Serif', serif" font-size="66" text-anchor="end" x="130.7" y="852.9">2</text>
<text font-family="'Liberation Serif', 'DejaVu Serif', serif" font-size="66" text-anchor="end" x="130.7" y="619.7">4</text>
<text font-family="'Liberation Serif', 'DejaVu Serif', serif" font-size="66" text-anchor="end" x="130.7" y="386.5">6</text>
<text font-family="'Liberation Serif', 'DejaVu Serif', serif" font-size="66" text-anchor="end" x="130.7" y="153.3">8</text>
<text font-family="'Liberation Serif', 'DejaVu Serif', serif" font-size="66" text-anchor="middle" x="153.1" y="1131.4">0</text>
<text font-family="'Liberation Serif', 'DejaVu Serif', serif" font-size="66" text-anchor="middle" x="415.4" y="1131.4">0.1</text>
<text font-family="'Liberation Serif', 'DejaVu Serif', serif" font-size="66" text-anchor="middle" x="677.6" y="1131.4">0.2</text>
<text font-family="'Liberation Serif', 'DejaVu Serif', serif" font-size="66" text-anchor="middle" x="939.8" y="1131.4">0.3</text>
<text font-family="'Liberation Serif', 'DejaVu Serif', serif" font-size="66" text-anchor="middle" x="1201.4" y="1131.4">0.4</text>
<text font-family="'Liberation Serif', 'DejaVu Serif', serif" font-size="65" y="1198.8"><tspan x="633.5" font-size="71" stroke="#000" stroke-width="1.1">ω</tspan><tspan x="677.8">/</tspan><tspan x="693.9">J</tspan></text>
<g transform="translate(64 538) rotate(-90)" font-family="'Liberation Serif', 'DejaVu Serif', serif" font-size="65">
<text transform="translate(-62.8 -0.9) scale(1.15 1)" font-size="63" stroke="#000" stroke-width="1">σ</text>
<text transform="translate(-24.3 -3) scale(1 0.939)">(</text>
<text x="-0.4" y="-1.5" font-size="70" stroke="#000" stroke-width="1.1">ω</text>
<text transform="translate(42.8 -3) scale(1 0.939)">)</text>
</g>
</svg>
</body></html>
